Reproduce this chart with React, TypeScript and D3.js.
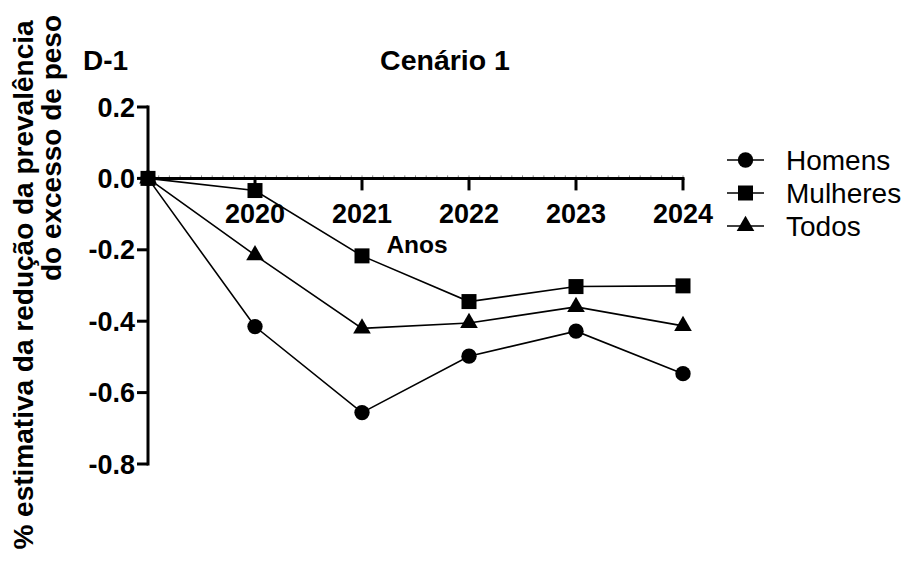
import React from "react";
import * as d3 from "d3";

const years = [2019, 2020, 2021, 2022, 2023, 2024];
const homens = [0, -0.415, -0.656, -0.498, -0.428, -0.547];
const mulheres = [0, -0.034, -0.217, -0.345, -0.303, -0.301];
const todos = [0, -0.215, -0.42, -0.405, -0.36, -0.413];
const xTickYears = [2020, 2021, 2022, 2023, 2024];
const yTicks = [0.2, 0, -0.2, -0.4, -0.6, -0.8];
const seriesNames = ["Homens", "Mulheres", "Todos"];

const FONT = "'Liberation Sans', Arial, Helvetica, sans-serif";

// one decimal, plain hyphen for negatives
const fmt = (v: number) => (Math.abs(v) < 1e-9 ? 0 : v).toFixed(1);

export default function App() {
  const width = 909;
  const height = 564;
  const x = d3.scaleLinear().domain([2019, 2024]).range([148, 683]);
  const y = d3.scaleLinear().domain([0.2, -0.8]).range([107, 464]);

  const line = d3
    .line<[number, number]>()
    .x((d) => x(d[0]))
    .y((d) => y(d[1]));

  const series = [
    { name: seriesNames[0], values: homens, symbol: d3.symbolCircle, size: 185 },
    { name: seriesNames[1], values: mulheres, symbol: d3.symbolSquare, size: 225 },
    { name: seriesNames[2], values: todos, symbol: d3.symbolTriangle, size: 135 },
  ];

  const minorTicks = d3.range(2019, 2024.0001, 0.1);

  return (
    <svg
      width={width}
      height={height}
      style={{ position: "absolute", left: 0, top: 0, background: "#fff" }}
      fontFamily={FONT}
    >
      <rect width={width} height={height} fill="#fff" />
      {/* titles */}
      <text x={83} y={70} fontSize={28} fontWeight="bold">D-1</text>
      <text x={445} y={70} fontSize={28.5} fontWeight="bold" textAnchor="middle">Cenário 1</text>
      <text
        transform={`translate(33,285) rotate(-90)`}
        fontSize={28}
        fontWeight="bold"
        textAnchor="middle"
      >
        % estimativa da redução da prevalência
      </text>
      <text
        transform={`translate(61,15) rotate(-90)`}
        fontSize={28}
        fontWeight="bold"
        textAnchor="end"
      >
        do excesso de peso
      </text>

      {/* y axis */}
      <line x1={x(2019)} x2={x(2019)} y1={y(0.2) - 1.5} y2={y(-0.8) + 1.5} stroke="#000" strokeWidth={3} />
      {yTicks.map((t) => (
        <g key={t}>
          <line x1={x(2019) - 11} x2={x(2019)} y1={y(t)} y2={y(t)} stroke="#000" strokeWidth={3} />
          <text x={x(2019) - 13} y={y(t) + 9.5} fontSize={27} fontWeight="bold" textAnchor="end">
            {fmt(t)}
          </text>
        </g>
      ))}

      {/* x axis at zero */}
      {minorTicks.map((m, i) => (
        <line key={i} x1={x(m)} x2={x(m)} y1={y(0) - 3} y2={y(0)} stroke="#888" strokeWidth={1} />
      ))}
      <line x1={x(2019)} x2={x(2024) + 1.5} y1={y(0)} y2={y(0)} stroke="#000" strokeWidth={3} />
      {xTickYears.map((t) => (
        <g key={t}>
          <line x1={x(t)} x2={x(t)} y1={y(0)} y2={y(0) + 12} stroke="#000" strokeWidth={3} />
          <text x={x(t)} y={y(0) + 45} fontSize={27} fontWeight="bold" textAnchor="middle">
            {t}
          </text>
        </g>
      ))}
      <text x={417} y={253} fontSize={24.5} fontWeight="bold" textAnchor="middle">Anos</text>

      {/* series */}
      {series.map((s) => {
        const pts = years.map((yr, i) => [yr, s.values[i]] as [number, number]);
        const sym = d3.symbol().type(s.symbol).size(s.size)();
        return (
          <g key={s.name}>
            <path d={line(pts) || ""} fill="none" stroke="#000" strokeWidth={1.6} />
            {pts.map((p, i) => (
              <path key={i} d={sym || ""} transform={`translate(${x(p[0])},${y(p[1])})`} fill="#000" />
            ))}
          </g>
        );
      })}

      {/* legend */}
      {series.map((s, i) => {
        const ly = 160 + i * 33;
        const sym = d3.symbol().type(s.symbol).size(s.size)();
        return (
          <g key={s.name}>
            <line x1={727} x2={764} y1={ly} y2={ly} stroke="#000" strokeWidth={1.6} />
            <path d={sym || ""} transform={`translate(745.5,${ly})`} fill="#000" />
            <text x={786} y={ly + 10} fontSize={28}>{s.name}</text>
          </g>
        );
      })}
    </svg>
  );
}
